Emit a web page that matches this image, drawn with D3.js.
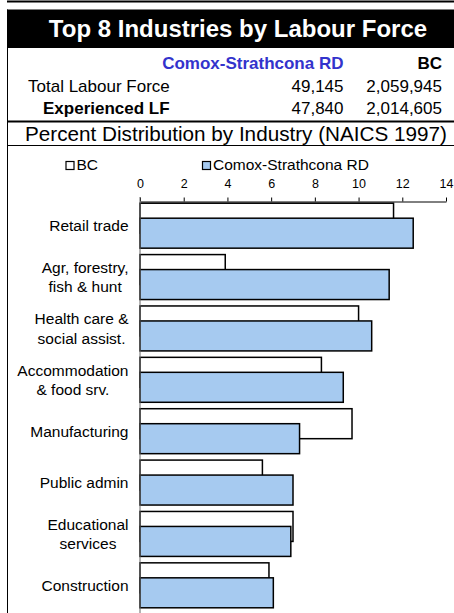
<!DOCTYPE html>
<html>
<head>
<meta charset="utf-8">
<script src="https://cdn.jsdelivr.net/npm/d3@7"></script>
<style>
  html, body { margin: 0; padding: 0; background: #fff; }
  svg { display: block; font-family: "Liberation Sans", Arial, sans-serif; }
</style>
</head>
<body>
<svg width="454" height="613"></svg>
<script>
// chart data
var categories = ['Retail trade', 'Agr, forestry,|fish & hunt', 'Health care &|social assist.',
  'Accommodation|& food srv.', 'Manufacturing', 'Public admin', 'Educational|services', 'Construction'];
var bcValues = [11.6, 3.9, 10.0, 8.3, 9.7, 5.6, 7.0, 5.9];
var csrdValues = [12.5, 11.4, 10.6, 9.3, 7.3, 7.0, 6.9, 6.1];
var xTicks = [0, 2, 4, 6, 8, 10, 12, 14];
var seriesNames = ['BC', 'Comox-Strathcona RD'];
var regionName = 'Comox-Strathcona RD';
var totalLF = ['49,145', '2,059,945'];
var experiencedLF = ['47,840', '2,014,605'];

var svg = d3.select('svg');

//header block
svg.append('line').attr('x1', 7).attr('x2', 454).attr('y1', 1.5).attr('y2', 1.5)
  .attr('stroke', '#000').attr('stroke-width', 2);
svg.append('rect').attr('x', 7).attr('y', 9.5).attr('width', 447).attr('height', 38.5).attr('fill', '#000');
svg.append('text').attr('x', 238).attr('y', 37).attr('text-anchor', 'middle')
  .attr('fill', '#fff').attr('font-weight', 'bold').attr('font-size', 24)
  .text('Top 8 Industries by Labour Force');

// left border of whole box
svg.append('line').attr('x1', 7.5).attr('x2', 7.5).attr('y1', 9.5).attr('y2', 613)
  .attr('stroke', '#000').attr('stroke-width', 1);

svg.append('text').attr('x', 343.5).attr('y', 68.5).attr('text-anchor', 'end')
  .attr('fill', '#3333cc').attr('font-weight', 'bold').attr('font-size', 17).text(regionName);
svg.append('text').attr('x', 442).attr('y', 68.5).attr('text-anchor', 'end')
  .attr('font-weight', 'bold').attr('font-size', 17).text('BC');

svg.append('text').attr('x', 28).attr('y', 92).attr('font-size', 17).text('Total Labour Force');
svg.append('text').attr('x', 343.5).attr('y', 92).attr('text-anchor', 'end').attr('font-size', 17).text(totalLF[0]);
svg.append('text').attr('x', 442).attr('y', 92).attr('text-anchor', 'end').attr('font-size', 17).text(totalLF[1]);

svg.append('text').attr('x', 43).attr('y', 113.5).attr('font-size', 17).attr('font-weight', 'bold').text('Experienced LF');
svg.append('text').attr('x', 343.5).attr('y', 113.5).attr('text-anchor', 'end').attr('font-size', 17).text(experiencedLF[0]);
svg.append('text').attr('x', 442).attr('y', 113.5).attr('text-anchor', 'end').attr('font-size', 17).text(experiencedLF[1]);

svg.append('line').attr('x1', 7).attr('x2', 454).attr('y1', 121.5).attr('y2', 121.5)
  .attr('stroke', '#000').attr('stroke-width', 2);
svg.append('text').attr('x', 25).attr('y', 140.5).attr('font-size', 20)
  .attr('textLength', 422).attr('lengthAdjust', 'spacingAndGlyphs')
  .text('Percent Distribution by Industry (NAICS 1997)');
svg.append('line').attr('x1', 7).attr('x2', 454).attr('y1', 145.5).attr('y2', 145.5)
  .attr('stroke', '#000').attr('stroke-width', 1.2);

//legend
var legendX = [66, 202.5];
var legend = svg.append('g').selectAll('g').data(seriesNames).enter().append('g')
  .attr('transform', function (d, i) { return 'translate(' + legendX[i] + ',161.5)'; });
legend.append('rect').attr('width', 8).attr('height', 8)
  .attr('fill', function (d, i) { return i == 0 ? '#fff' : '#a6caf0'; })
  .attr('stroke', '#000').attr('stroke-width', 1.2);
legend.append('text').attr('x', 10.5).attr('y', 8.8).attr('font-size', 15.5).text(function (d) { return d; });

//scales
var x = d3.scaleLinear().domain([0, 14]).range([140, 446]);
var y = d3.scaleBand().domain(categories).range([200, 611]).paddingInner(0.125).paddingOuter(0.0625);
var bh = y.bandwidth() * 2 / 3;

//x axis at the top
var xAxis = svg.append('g')
  .attr('transform', 'translate(0,201.5)')
  .call(d3.axisTop(x).tickValues(xTicks).tickSize(4).tickSizeOuter(0).tickPadding(10));
xAxis.select('.domain').attr('stroke', '#000');
xAxis.selectAll('.tick line').attr('stroke', '#000');
xAxis.selectAll('text').attr('font-size', 12.5).attr('fill', '#000')
  .style('font-family', '"Liberation Sans", Arial, sans-serif');

//bars
var groups = svg.append('g').selectAll('g').data(categories).enter().append('g');
groups.append('rect')
  .attr('x', x(0))
  .attr('y', function (d) { return y(d); })
  .attr('width', function (d, i) { return x(bcValues[i]) - x(0); })
  .attr('height', bh)
  .attr('fill', '#fff').attr('stroke', '#000').attr('stroke-width', 1.5);
groups.append('rect')
  .attr('x', x(0))
  .attr('y', function (d) { return y(d) + y.bandwidth() / 3; })
  .attr('width', function (d, i) { return x(csrdValues[i]) - x(0); })
  .attr('height', bh)
  .attr('fill', '#a6caf0').attr('stroke', '#000').attr('stroke-width', 1.5);

// category axis line
svg.append('line').attr('x1', x(0)).attr('x2', x(0)).attr('y1', 197).attr('y2', 613)
  .attr('stroke', '#666').attr('stroke-width', 1);

//category labels, lines centred within block, block right aligned
var lineH = 19.5;
groups.each(function (d) {
  var lines = d.split('|');
  var g = d3.select(this);
  var cy = y(d) + y.bandwidth() / 2;
  var t = g.selectAll('text.cat').data(lines).enter().append('text')
    .attr('class', 'cat').attr('font-size', 15.5).attr('text-anchor', 'middle')
    .attr('y', function (l, k) { return cy + (k - (lines.length - 1) / 2) * lineH + 5.5; })
    .text(function (l) { return l; });
  var maxW = 0;
  t.each(function () { maxW = Math.max(maxW, this.getComputedTextLength()); });
  t.attr('x', 128.5 - maxW / 2);
});
</script>
</body>
</html>
